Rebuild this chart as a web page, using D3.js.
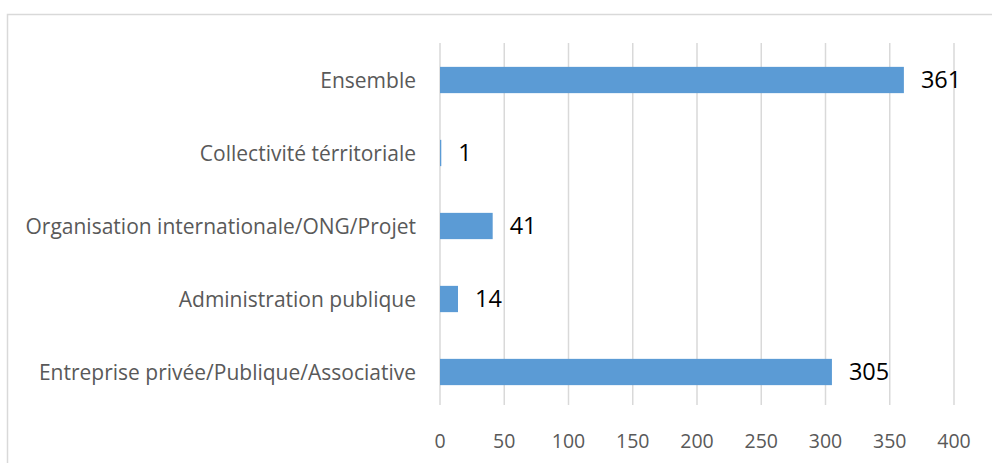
<!DOCTYPE html>
<html><head><meta charset="utf-8">
<script src="https://cdn.jsdelivr.net/npm/d3@7"></script>
<style>body{margin:0;background:#fff}svg{display:block}</style>
</head><body>
<svg id="c" width="992" height="463"></svg>
<script>
const categories = ["Ensemble","Collectivité térritoriale","Organisation internationale/ONG/Projet","Administration publique","Entreprise privée/Publique/Associative"];
const values = [361, 1, 41, 14, 305];
const ticks = [0,50,100,150,200,250,300,350,400];

const svg = d3.select("#c");
const font = "'Open Sans', 'Liberation Sans', sans-serif";
// chart border
svg.append("rect").attr("x",7.5).attr("y",14.5).attr("width",990).attr("height",470)
  .attr("fill","none").attr("stroke","#d9d9d9").attr("stroke-width",1.5);

const x = d3.scaleLinear().domain([0,400]).range([440,954]);
const y = d3.scaleBand().domain(categories).range([43.5,408.5]).paddingInner(0.64).paddingOuter(0.32);

// gridlines
svg.append("g").selectAll("line").data(ticks).join("line")
  .attr("x1",d=>x(d)).attr("x2",d=>x(d)).attr("y1",43).attr("y2",405)
  .attr("stroke","#d9d9d9").attr("stroke-width",1.5);

// bars
svg.append("g").selectAll("rect").data(values).join("rect")
  .attr("x",x(0)).attr("y",(d,i)=>y(categories[i]))
  .attr("width",d=>x(d)-x(0)).attr("height",y.bandwidth())
  .attr("fill","#5B9BD5");

// value labels
svg.append("g").selectAll("text").data(values).join("text")
  .attr("x",d=>x(d)+17).attr("y",(d,i)=>y(categories[i])+y.bandwidth()/2)
  .attr("dy","0.36em").attr("font-family",font).attr("font-size",23.5).attr("fill","#000")
  .text(d=>d);

// category labels
svg.append("g").selectAll("text").data(categories).join("text")
  .attr("x",416).attr("y",d=>y(d)+y.bandwidth()/2).attr("dy","0.36em")
  .attr("text-anchor","end").attr("font-family",font).attr("font-size",21).attr("fill","#595959")
  .text(d=>d);

// tick labels
svg.append("g").selectAll("text").data(ticks).join("text")
  .attr("x",d=>x(d)).attr("y",441).attr("dy","0.36em").attr("text-anchor","middle")
  .attr("font-family",font).attr("font-size",19.5).attr("fill","#595959")
  .text(d=>d);
</script>
</body></html>
